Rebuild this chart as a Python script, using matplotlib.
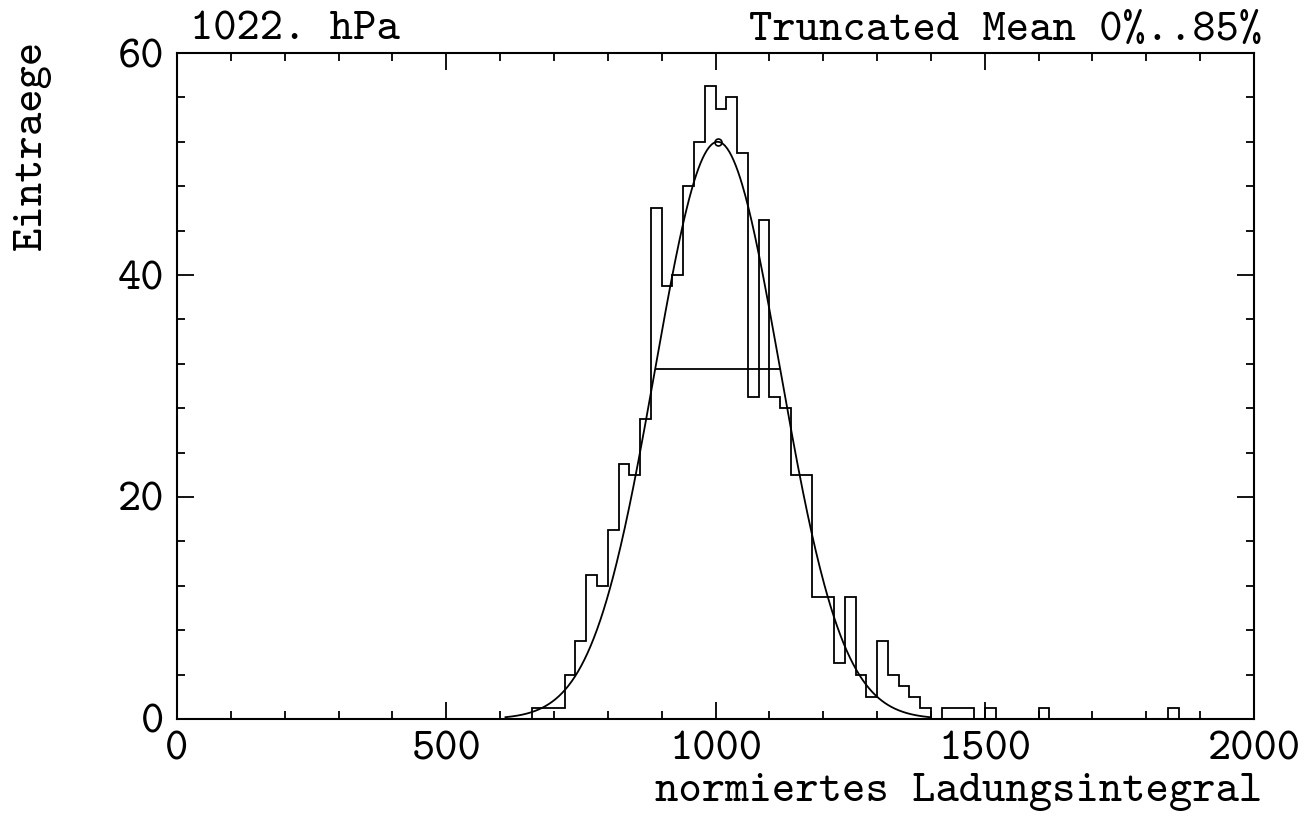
import matplotlib
matplotlib.use("Agg")
import matplotlib.pyplot as plt
import numpy as np
from matplotlib.ticker import MultipleLocator

# histogram: 20-wide bins starting at 660
bin_start = 660
bin_width = 20
counts = [1, 1, 1, 4, 7, 13, 12, 17, 23, 22,
          27, 46, 39, 40, 48, 52, 57, 55, 56, 51,
          29, 45, 29, 28, 22, 22, 11, 11, 5, 11,
          4, 2, 7, 4, 3, 2, 1, 0, 1, 1,
          1, 0, 1, 0, 0, 0, 0, 1, 0, 0,
          0, 0, 0, 0, 0, 0, 0, 0, 0, 1]

# gauss fit
fit_mean = 1004
fit_sigma = 116
fit_amp = 52
fit_range = (610, 1400)

plt.rcParams["font.family"] = ["cmtt10", "DejaVu Sans Mono"]
plt.rcParams["axes.unicode_minus"] = False

fs = 32

fig = plt.figure(figsize=(13.04, 8.27), dpi=100)
ax = fig.add_axes([0.1357, 0.1306, 0.826, 0.8053])

edges = bin_start + bin_width * np.arange(len(counts) + 1)
ax.stairs(counts, edges, color="black", linewidth=1.3)

xs = np.linspace(*fit_range, 400)
ax.plot(xs, fit_amp * np.exp(-0.5 * ((xs - fit_mean) / fit_sigma) ** 2),
        color="black", linewidth=1.3)
ax.plot(fit_mean, fit_amp, "o", mfc="none", mec="black", ms=5, mew=1.2)
ax.hlines(fit_amp * np.exp(-0.5), fit_mean - fit_sigma, fit_mean + fit_sigma,
          color="black", linewidth=1.3)

ax.set_xlim(0, 2000)
ax.set_ylim(0, 60)
ax.xaxis.set_major_locator(MultipleLocator(500))
ax.xaxis.set_minor_locator(MultipleLocator(100))
ax.yaxis.set_major_locator(MultipleLocator(20))
ax.yaxis.set_minor_locator(MultipleLocator(4))
ax.tick_params(which="both", direction="in", top=True, right=True,
               width=1.3, labelsize=fs, pad=9)
ax.tick_params(which="major", length=12)
ax.tick_params(which="minor", length=6)
for s in ax.spines.values():
    s.set_linewidth(1.5)

fig.text(0.146, 0.952, "1022. hPa", fontsize=fs, ha="left", va="baseline")
fig.text(0.968, 0.952, "Truncated Mean 0%..85%", fontsize=fs, ha="right", va="baseline")
fig.text(0.968, 0.032, "normiertes Ladungsintegral", fontsize=fs, ha="right", va="baseline")
fig.text(0.010, 0.952, "Eintraege", fontsize=fs, rotation=90, ha="left", va="top")

fig.savefig("out.png", dpi=100)
